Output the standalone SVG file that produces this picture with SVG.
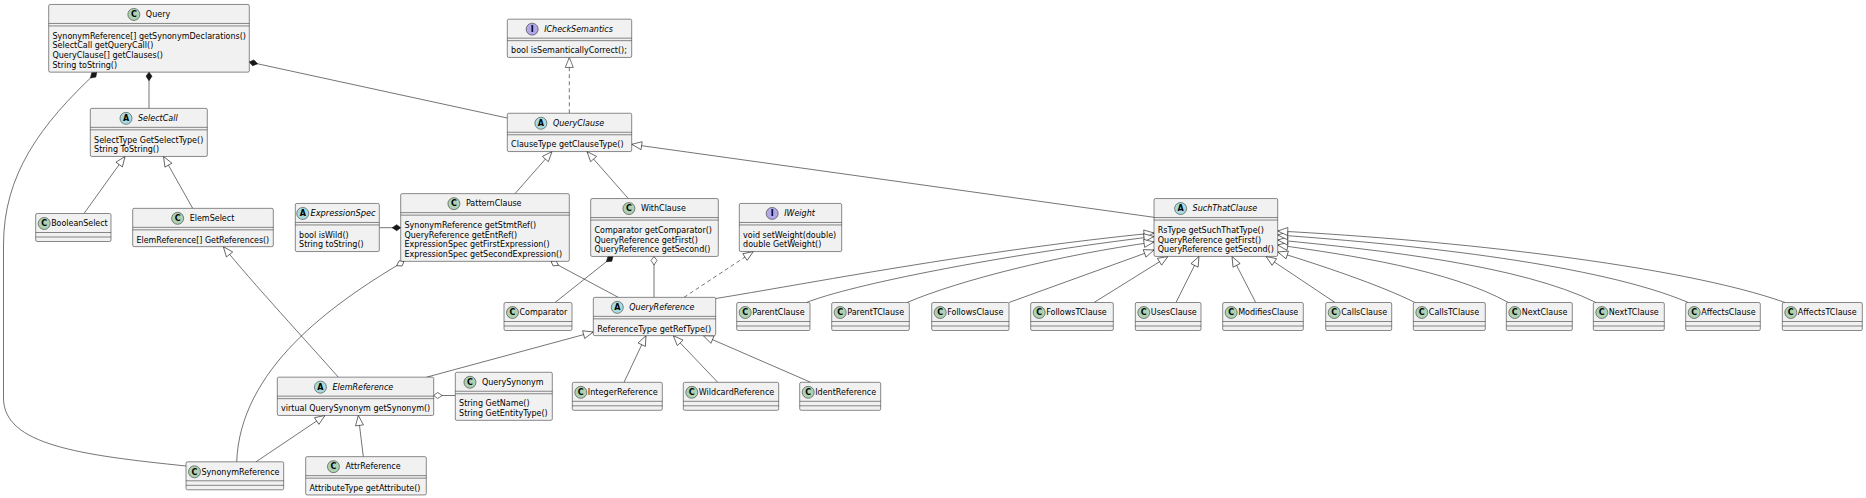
<svg xmlns="http://www.w3.org/2000/svg" width="1866" height="498" viewBox="0 0 1866 498">
<style>
.b{fill:#F1F1F1;stroke:#181818;stroke-width:0.5}
.s{stroke:#181818;stroke-width:0.5}
.t{font-family:"DejaVu Sans",sans-serif;font-size:8px;fill:#000}
.i{font-style:italic}
.cC{fill:#ADD1B2;stroke:#181818;stroke-width:0.5}
.cA{fill:#A9DCDF;stroke:#181818;stroke-width:0.5}
.cI{fill:#B4A7E5;stroke:#181818;stroke-width:0.5}
.l{font-family:"DejaVu Sans",sans-serif;font-size:8px;font-weight:bold;text-anchor:middle;fill:#000}
.e{fill:none;stroke:#181818;stroke-width:0.6}
.d{stroke-dasharray:4,3}
.tri{marker-end:url(#tri)}
.df{marker-start:url(#dF)}
.dh{marker-start:url(#dH)}
</style>
<defs>
<marker id="tri" markerUnits="userSpaceOnUse" markerWidth="12" markerHeight="10" refX="0" refY="0" orient="auto" overflow="visible"><path d="M0,0 L-10,-4 L-10,4 Z" fill="#fff" stroke="#181818" stroke-width="0.6"/></marker>
<marker id="dF" markerUnits="userSpaceOnUse" markerWidth="10" markerHeight="8" refX="0" refY="0" orient="auto" overflow="visible"><path d="M0,0 L4,-3 L8.5,0 L4,3 Z" fill="#181818" stroke="#181818" stroke-width="0.6"/></marker>
<marker id="dH" markerUnits="userSpaceOnUse" markerWidth="10" markerHeight="8" refX="0" refY="0" orient="auto" overflow="visible"><path d="M0,0 L4,-3 L8.5,0 L4,3 Z" fill="#fff" stroke="#181818" stroke-width="0.6"/></marker>
</defs>
<rect width="1866" height="498" fill="#fff"/>
<g id="connectors">
<path class="e df" d="M149,72.15 L149,108.35"/>
<path class="e df" d="M249.3,62 L507.3,118"/>
<path class="e df" d="M96.7,72.15 C40,125 3.5,175 3.5,245 L3.5,398 C3.5,445 80,455 186,466"/>
<path class="e tri" d="M84,213.5 L125,156.45"/>
<path class="e tri" d="M192.7,208.35 L163.5,156.45"/>
<path class="e tri" d="M338.3,377.15 C310,345 250,280 223.3,246.65"/>
<path class="e dh" d="M404,261.35 C330,305 240,370 236.7,461.8"/>
<path class="e df" d="M400.7,227.7 L379.3,227.7"/>
<path class="e tri" d="M515,193.65 L552,151.55"/>
<path class="e tri" d="M628.3,198.55 L587,151.55"/>
<path class="e tri" d="M1154,217.3 L631.7,144.3"/>
<path class="e d tri" d="M569.3,113.25 L569.3,57.45"/>
<path class="e df" d="M613,256.45 L555,302.5"/>
<path class="e dh" d="M654,256.45 L654,297.35"/>
<path class="e dh" d="M551,261.35 L618.3,297.35"/>
<path class="e d tri" d="M684,297.35 L753.3,251.55"/>
<path class="e tri" d="M715.7,298.5 C800,285 980,250 1154,233"/>
<path class="e tri" d="M806.5,302.5 C850,285 1000,255 1154,236.5"/>
<path class="e tri" d="M907,302.5 C960,280 1060,255 1154,242"/>
<path class="e tri" d="M1009,302.5 L1154,250"/>
<path class="e tri" d="M1094,302.5 L1168,256.45"/>
<path class="e tri" d="M1176,302.5 L1199,256.45"/>
<path class="e tri" d="M1255.7,302.5 L1232,256.45"/>
<path class="e tri" d="M1335,302.5 L1266,256.45"/>
<path class="e tri" d="M1415,302.5 C1380,285 1320,265 1277.7,252"/>
<path class="e tri" d="M1508.3,302.5 C1450,270 1350,255 1277.7,245"/>
<path class="e tri" d="M1596,302.5 C1520,265 1380,250 1277.7,240"/>
<path class="e tri" d="M1688.3,302.5 C1600,265 1420,245 1277.7,235"/>
<path class="e tri" d="M1785,302.5 C1680,265 1450,240 1277.7,231"/>
<path class="e tri" d="M426.7,377.15 L593.3,332"/>
<path class="e tri" d="M624,382.3 L646,335.65"/>
<path class="e tri" d="M717.7,382.3 L673.3,335.65"/>
<path class="e tri" d="M810.7,382.3 L703.3,335.65"/>
<path class="e tri" d="M256,461.8 L325,415.45"/>
<path class="e tri" d="M363.3,456.65 L358.3,415.45"/>
<path class="e dh" d="M433.7,395.5 L455.3,395.5"/>
</g>

<g id="Query">
<rect class="b" x="48.7" y="4.45" width="200.6" height="67.7" rx="1.5"/>
<line class="s" x1="48.7" y1="23.45" x2="249.3" y2="23.45"/><line class="s" x1="48.7" y1="25.95" x2="249.3" y2="25.95"/>
<circle class="cC" cx="133.85" cy="14.45" r="6"/><text class="l" x="133.85" y="17.2">C</text>
<text class="t" x="145.85" y="17.25">Query</text>
<text class="t" x="52.5" y="38.65">SynonymReference[] getSynonymDeclarations()</text>
<text class="t" x="52.5" y="48.45">SelectCall getQueryCall()</text>
<text class="t" x="52.5" y="58.25">QueryClause[] getClauses()</text>
<text class="t" x="52.5" y="68.05">String toString()</text>
</g>

<g id="ICheckSemantics">
<rect class="b" x="507.3" y="19.15" width="124.4" height="38.3" rx="1.5"/>
<line class="s" x1="507.3" y1="38.15" x2="631.7" y2="38.15"/><line class="s" x1="507.3" y1="40.65" x2="631.7" y2="40.65"/>
<circle class="cI" cx="532.15" cy="29.15" r="6"/><text class="l" x="532.15" y="31.9">I</text>
<text class="t i" x="544.15" y="31.95">ICheckSemantics</text>
<text class="t" x="511.1" y="53.35">bool isSemanticallyCorrect();</text>
</g>

<g id="SelectCall">
<rect class="b" x="90.3" y="108.35" width="117" height="48.1" rx="1.5"/>
<line class="s" x1="90.3" y1="127.35" x2="207.3" y2="127.35"/><line class="s" x1="90.3" y1="129.85" x2="207.3" y2="129.85"/>
<circle class="cA" cx="126" cy="118.35" r="6"/><text class="l" x="126" y="121.1">A</text>
<text class="t i" x="138" y="121.15">SelectCall</text>
<text class="t" x="94.1" y="142.55">SelectType GetSelectType()</text>
<text class="t" x="94.1" y="152.35">String ToString()</text>
</g>

<g id="QueryClause">
<rect class="b" x="507.3" y="113.25" width="124.4" height="38.3" rx="1.5"/>
<line class="s" x1="507.3" y1="132.25" x2="631.7" y2="132.25"/><line class="s" x1="507.3" y1="134.75" x2="631.7" y2="134.75"/>
<circle class="cA" cx="540.9" cy="123.25" r="6"/><text class="l" x="540.9" y="126">A</text>
<text class="t i" x="552.9" y="126.05">QueryClause</text>
<text class="t" x="511.1" y="147.45">ClauseType getClauseType()</text>
</g>

<g id="BooleanSelect">
<rect class="b" x="35.7" y="213.5" width="75.3" height="28" rx="1.5"/>
<line class="s" x1="35.7" y1="232.5" x2="111" y2="232.5"/><line class="s" x1="35.7" y1="237" x2="111" y2="237"/>
<circle class="cC" cx="44.2" cy="223.5" r="6"/><text class="l" x="44.2" y="226.25">C</text>
<text class="t" x="51.2" y="226.3" textLength="56.5" lengthAdjust="spacingAndGlyphs">BooleanSelect</text>
</g>

<g id="ElemSelect">
<rect class="b" x="132.7" y="208.35" width="140.6" height="38.3" rx="1.5"/>
<line class="s" x1="132.7" y1="227.35" x2="273.3" y2="227.35"/><line class="s" x1="132.7" y1="229.85" x2="273.3" y2="229.85"/>
<circle class="cC" cx="177.65" cy="218.35" r="6"/><text class="l" x="177.65" y="221.1">C</text>
<text class="t" x="189.65" y="221.15">ElemSelect</text>
<text class="t" x="136.5" y="242.55" textLength="132.7" lengthAdjust="spacingAndGlyphs">ElemReference[] GetReferences()</text>
</g>

<g id="ExpressionSpec">
<rect class="b" x="295.3" y="203.45" width="84" height="48.1" rx="1.5"/>
<line class="s" x1="295.3" y1="222.45" x2="379.3" y2="222.45"/><line class="s" x1="295.3" y1="224.95" x2="379.3" y2="224.95"/>
<circle class="cA" cx="302.75" cy="213.45" r="6"/><text class="l" x="302.75" y="216.2">A</text>
<text class="t i" x="310.5" y="216.25" textLength="65" lengthAdjust="spacingAndGlyphs">ExpressionSpec</text>
<text class="t" x="299.1" y="237.65">bool isWild()</text>
<text class="t" x="299.1" y="247.45">String toString()</text>
</g>

<g id="PatternClause">
<rect class="b" x="400.7" y="193.65" width="168.6" height="67.7" rx="1.5"/>
<line class="s" x1="400.7" y1="212.65" x2="569.3" y2="212.65"/><line class="s" x1="400.7" y1="215.15" x2="569.3" y2="215.15"/>
<circle class="cC" cx="453.9" cy="203.65" r="6"/><text class="l" x="453.9" y="206.4">C</text>
<text class="t" x="465.9" y="206.45">PatternClause</text>
<text class="t" x="404.5" y="227.85">SynonymReference getStmtRef()</text>
<text class="t" x="404.5" y="237.65">QueryReference getEntRef()</text>
<text class="t" x="404.5" y="247.45">ExpressionSpec getFirstExpression()</text>
<text class="t" x="404.5" y="257.25">ExpressionSpec getSecondExpression()</text>
</g>

<g id="WithClause">
<rect class="b" x="590.7" y="198.55" width="127.6" height="57.9" rx="1.5"/>
<line class="s" x1="590.7" y1="217.55" x2="718.3" y2="217.55"/><line class="s" x1="590.7" y1="220.05" x2="718.3" y2="220.05"/>
<circle class="cC" cx="628.9" cy="208.55" r="6"/><text class="l" x="628.9" y="211.3">C</text>
<text class="t" x="640.9" y="211.35">WithClause</text>
<text class="t" x="594.5" y="232.75">Comparator getComparator()</text>
<text class="t" x="594.5" y="242.55">QueryReference getFirst()</text>
<text class="t" x="594.5" y="252.35">QueryReference getSecond()</text>
</g>

<g id="IWeight">
<rect class="b" x="739.3" y="203.45" width="102.4" height="48.1" rx="1.5"/>
<line class="s" x1="739.3" y1="222.45" x2="841.7" y2="222.45"/><line class="s" x1="739.3" y1="224.95" x2="841.7" y2="224.95"/>
<circle class="cI" cx="772.15" cy="213.45" r="6"/><text class="l" x="772.15" y="216.2">I</text>
<text class="t i" x="784.15" y="216.25">IWeight</text>
<text class="t" x="743.1" y="237.65">void setWeight(double)</text>
<text class="t" x="743.1" y="247.45">double GetWeight()</text>
</g>

<g id="SuchThatClause">
<rect class="b" x="1154" y="198.55" width="123.7" height="57.9" rx="1.5"/>
<line class="s" x1="1154" y1="217.55" x2="1277.7" y2="217.55"/><line class="s" x1="1154" y1="220.05" x2="1277.7" y2="220.05"/>
<circle class="cA" cx="1180.6" cy="208.55" r="6"/><text class="l" x="1180.6" y="211.3">A</text>
<text class="t i" x="1192.6" y="211.35">SuchThatClause</text>
<text class="t" x="1157.8" y="232.75">RsType getSuchThatType()</text>
<text class="t" x="1157.8" y="242.55">QueryReference getFirst()</text>
<text class="t" x="1157.8" y="252.35" textLength="116" lengthAdjust="spacingAndGlyphs">QueryReference getSecond()</text>
</g>

<g id="Comparator">
<rect class="b" x="504" y="302.5" width="68" height="28" rx="1.5"/>
<line class="s" x1="504" y1="321.5" x2="572" y2="321.5"/><line class="s" x1="504" y1="326" x2="572" y2="326"/>
<circle class="cC" cx="512.5" cy="312.5" r="6"/><text class="l" x="512.5" y="315.25">C</text>
<text class="t" x="519.5" y="315.3">Comparator</text>
</g>

<g id="QueryReference">
<rect class="b" x="593.3" y="297.35" width="122.4" height="38.3" rx="1.5"/>
<line class="s" x1="593.3" y1="316.35" x2="715.7" y2="316.35"/><line class="s" x1="593.3" y1="318.85" x2="715.7" y2="318.85"/>
<circle class="cA" cx="617.3" cy="307.35" r="6"/><text class="l" x="617.3" y="310.1">A</text>
<text class="t i" x="629.3" y="310.15">QueryReference</text>
<text class="t" x="597.3" y="331.55" textLength="114" lengthAdjust="spacingAndGlyphs">ReferenceType getRefType()</text>
</g>

<g id="ParentClause">
<rect class="b" x="736.7" y="302.5" width="73.3" height="28" rx="1.5"/>
<line class="s" x1="736.7" y1="321.5" x2="810" y2="321.5"/><line class="s" x1="736.7" y1="326" x2="810" y2="326"/>
<circle class="cC" cx="745.2" cy="312.5" r="6"/><text class="l" x="745.2" y="315.25">C</text>
<text class="t" x="752.2" y="315.3">ParentClause</text>
</g>

<g id="ParentTClause">
<rect class="b" x="831.7" y="302.5" width="77.6" height="28" rx="1.5"/>
<line class="s" x1="831.7" y1="321.5" x2="909.3" y2="321.5"/><line class="s" x1="831.7" y1="326" x2="909.3" y2="326"/>
<circle class="cC" cx="840.2" cy="312.5" r="6"/><text class="l" x="840.2" y="315.25">C</text>
<text class="t" x="847.2" y="315.3">ParentTClause</text>
</g>

<g id="FollowsClause">
<rect class="b" x="931.7" y="302.5" width="77.3" height="28" rx="1.5"/>
<line class="s" x1="931.7" y1="321.5" x2="1009" y2="321.5"/><line class="s" x1="931.7" y1="326" x2="1009" y2="326"/>
<circle class="cC" cx="940.2" cy="312.5" r="6"/><text class="l" x="940.2" y="315.25">C</text>
<text class="t" x="947.2" y="315.3">FollowsClause</text>
</g>

<g id="FollowsTClause">
<rect class="b" x="1030.7" y="302.5" width="82.6" height="28" rx="1.5"/>
<line class="s" x1="1030.7" y1="321.5" x2="1113.3" y2="321.5"/><line class="s" x1="1030.7" y1="326" x2="1113.3" y2="326"/>
<circle class="cC" cx="1039.2" cy="312.5" r="6"/><text class="l" x="1039.2" y="315.25">C</text>
<text class="t" x="1046.2" y="315.3">FollowsTClause</text>
</g>

<g id="UsesClause">
<rect class="b" x="1135.3" y="302.5" width="65.7" height="28" rx="1.5"/>
<line class="s" x1="1135.3" y1="321.5" x2="1201" y2="321.5"/><line class="s" x1="1135.3" y1="326" x2="1201" y2="326"/>
<circle class="cC" cx="1143.8" cy="312.5" r="6"/><text class="l" x="1143.8" y="315.25">C</text>
<text class="t" x="1150.8" y="315.3">UsesClause</text>
</g>

<g id="ModifiesClause">
<rect class="b" x="1222.7" y="302.5" width="80.6" height="28" rx="1.5"/>
<line class="s" x1="1222.7" y1="321.5" x2="1303.3" y2="321.5"/><line class="s" x1="1222.7" y1="326" x2="1303.3" y2="326"/>
<circle class="cC" cx="1231.2" cy="312.5" r="6"/><text class="l" x="1231.2" y="315.25">C</text>
<text class="t" x="1238.2" y="315.3">ModifiesClause</text>
</g>

<g id="CallsClause">
<rect class="b" x="1325.7" y="302.5" width="66" height="28" rx="1.5"/>
<line class="s" x1="1325.7" y1="321.5" x2="1391.7" y2="321.5"/><line class="s" x1="1325.7" y1="326" x2="1391.7" y2="326"/>
<circle class="cC" cx="1334.2" cy="312.5" r="6"/><text class="l" x="1334.2" y="315.25">C</text>
<text class="t" x="1341.2" y="315.3">CallsClause</text>
</g>

<g id="CallsTClause">
<rect class="b" x="1413.3" y="302.5" width="72" height="28" rx="1.5"/>
<line class="s" x1="1413.3" y1="321.5" x2="1485.3" y2="321.5"/><line class="s" x1="1413.3" y1="326" x2="1485.3" y2="326"/>
<circle class="cC" cx="1421.8" cy="312.5" r="6"/><text class="l" x="1421.8" y="315.25">C</text>
<text class="t" x="1428.8" y="315.3">CallsTClause</text>
</g>

<g id="NextClause">
<rect class="b" x="1506.3" y="302.5" width="66" height="28" rx="1.5"/>
<line class="s" x1="1506.3" y1="321.5" x2="1572.3" y2="321.5"/><line class="s" x1="1506.3" y1="326" x2="1572.3" y2="326"/>
<circle class="cC" cx="1514.8" cy="312.5" r="6"/><text class="l" x="1514.8" y="315.25">C</text>
<text class="t" x="1521.8" y="315.3">NextClause</text>
</g>

<g id="NextTClause">
<rect class="b" x="1593.3" y="302.5" width="71" height="28" rx="1.5"/>
<line class="s" x1="1593.3" y1="321.5" x2="1664.3" y2="321.5"/><line class="s" x1="1593.3" y1="326" x2="1664.3" y2="326"/>
<circle class="cC" cx="1601.8" cy="312.5" r="6"/><text class="l" x="1601.8" y="315.25">C</text>
<text class="t" x="1608.8" y="315.3">NextTClause</text>
</g>

<g id="AffectsClause">
<rect class="b" x="1685.7" y="302.5" width="74.6" height="28" rx="1.5"/>
<line class="s" x1="1685.7" y1="321.5" x2="1760.3" y2="321.5"/><line class="s" x1="1685.7" y1="326" x2="1760.3" y2="326"/>
<circle class="cC" cx="1694.2" cy="312.5" r="6"/><text class="l" x="1694.2" y="315.25">C</text>
<text class="t" x="1701.2" y="315.3">AffectsClause</text>
</g>

<g id="AffectsTClause">
<rect class="b" x="1782.3" y="302.5" width="80" height="28" rx="1.5"/>
<line class="s" x1="1782.3" y1="321.5" x2="1862.3" y2="321.5"/><line class="s" x1="1782.3" y1="326" x2="1862.3" y2="326"/>
<circle class="cC" cx="1790.8" cy="312.5" r="6"/><text class="l" x="1790.8" y="315.25">C</text>
<text class="t" x="1797.8" y="315.3">AffectsTClause</text>
</g>

<g id="ElemReference">
<rect class="b" x="277.3" y="377.15" width="156.4" height="38.3" rx="1.5"/>
<line class="s" x1="277.3" y1="396.15" x2="433.7" y2="396.15"/><line class="s" x1="277.3" y1="398.65" x2="433.7" y2="398.65"/>
<circle class="cA" cx="320.45" cy="387.15" r="6"/><text class="l" x="320.45" y="389.9">A</text>
<text class="t i" x="332.45" y="389.95">ElemReference</text>
<text class="t" x="281.1" y="411.35">virtual QuerySynonym getSynonym()</text>
</g>

<g id="QuerySynonym">
<rect class="b" x="455.3" y="372.25" width="97" height="48.1" rx="1.5"/>
<line class="s" x1="455.3" y1="391.25" x2="552.3" y2="391.25"/><line class="s" x1="455.3" y1="393.75" x2="552.3" y2="393.75"/>
<circle class="cC" cx="469.95" cy="382.25" r="6"/><text class="l" x="469.95" y="385">C</text>
<text class="t" x="481.95" y="385.05">QuerySynonym</text>
<text class="t" x="459.1" y="406.45">String GetName()</text>
<text class="t" x="459.1" y="416.25">String GetEntityType()</text>
</g>

<g id="IntegerReference">
<rect class="b" x="572.3" y="382.3" width="90" height="28" rx="1.5"/>
<line class="s" x1="572.3" y1="401.3" x2="662.3" y2="401.3"/><line class="s" x1="572.3" y1="405.8" x2="662.3" y2="405.8"/>
<circle class="cC" cx="580.8" cy="392.3" r="6"/><text class="l" x="580.8" y="395.05">C</text>
<text class="t" x="587.8" y="395.1" textLength="70" lengthAdjust="spacingAndGlyphs">IntegerReference</text>
</g>

<g id="WildcardReference">
<rect class="b" x="683.3" y="382.3" width="95.4" height="28" rx="1.5"/>
<line class="s" x1="683.3" y1="401.3" x2="778.7" y2="401.3"/><line class="s" x1="683.3" y1="405.8" x2="778.7" y2="405.8"/>
<circle class="cC" cx="691.8" cy="392.3" r="6"/><text class="l" x="691.8" y="395.05">C</text>
<text class="t" x="698.8" y="395.1" textLength="75.5" lengthAdjust="spacingAndGlyphs">WildcardReference</text>
</g>

<g id="IdentReference">
<rect class="b" x="799.7" y="382.3" width="81" height="28" rx="1.5"/>
<line class="s" x1="799.7" y1="401.3" x2="880.7" y2="401.3"/><line class="s" x1="799.7" y1="405.8" x2="880.7" y2="405.8"/>
<circle class="cC" cx="808.2" cy="392.3" r="6"/><text class="l" x="808.2" y="395.05">C</text>
<text class="t" x="815.2" y="395.1" textLength="61" lengthAdjust="spacingAndGlyphs">IdentReference</text>
</g>

<g id="SynonymReference">
<rect class="b" x="186" y="461.8" width="97.7" height="28" rx="1.5"/>
<line class="s" x1="186" y1="480.8" x2="283.7" y2="480.8"/><line class="s" x1="186" y1="485.3" x2="283.7" y2="485.3"/>
<circle class="cC" cx="194.5" cy="471.8" r="6"/><text class="l" x="194.5" y="474.55">C</text>
<text class="t" x="201.5" y="474.6" textLength="78" lengthAdjust="spacingAndGlyphs">SynonymReference</text>
</g>

<g id="AttrReference">
<rect class="b" x="305.7" y="456.65" width="120.6" height="38.3" rx="1.5"/>
<line class="s" x1="305.7" y1="475.65" x2="426.3" y2="475.65"/><line class="s" x1="305.7" y1="478.15" x2="426.3" y2="478.15"/>
<circle class="cC" cx="333.45" cy="466.65" r="6"/><text class="l" x="333.45" y="469.4">C</text>
<text class="t" x="345.45" y="469.45">AttrReference</text>
<text class="t" x="309.5" y="490.85">AttributeType getAttribute()</text>
</g>
</svg>
